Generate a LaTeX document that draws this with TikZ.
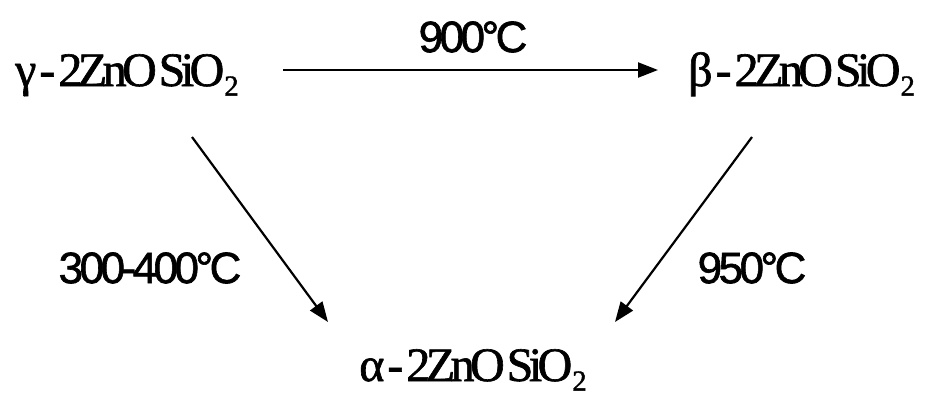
\documentclass[tikz,border=0pt]{standalone}
\usepackage{fontspec}
\usepackage{tikz}
\usetikzlibrary{arrows.meta,positioning}
\newfontfamily\formfont[LetterSpace=-9.5,FakeBold=1.3]{Liberation Serif}
\newfontfamily\tempfont[LetterSpace=-8,FakeBold=1.4]{Liberation Sans}
\newcommand{\sub}[1]{\raisebox{-0.2em}{\fontsize{29}{29}\selectfont #1}}
\tikzset{
  phase/.style={inner sep=0pt,font=\fontsize{48}{50}\selectfont\formfont},
  templbl/.style={inner sep=0pt,font=\fontsize{44}{46}\selectfont\tempfont},
  convarrow/.style={-{Triangle[length=20pt,width=15pt]},line width=2.2pt},
}
\begin{document}
\begin{tikzpicture}[x=1pt,y=-1pt]
  \useasboundingbox (0,0) rectangle (926,397);
  % the three polymorphs
  \node[phase,anchor=base west] (gam) at (15,86) {γ\kern3pt-\kern3pt2ZnO\kern2pt SiO\sub{2}};
  \node[phase,anchor=base west] (bet) at (688,86) {β\kern3pt-\kern3pt2ZnO\kern2pt SiO\sub{2}};
  \node[phase,anchor=base] (alp) at (473,381) {α\kern3pt-\kern3pt2ZnO\kern2pt SiO\sub{2}};
  % transitions
  \draw[convarrow] ([xshift=268pt,yshift=16pt]gam.base west) -- ([xshift=-30pt,yshift=16pt]bet.base west);
  \draw[convarrow] ([xshift=177pt,yshift=-51pt]gam.base west) -- ([xshift=-145pt,yshift=59pt]alp.base);
  \draw[convarrow] ([xshift=64pt,yshift=-51pt]bet.base west) -- ([xshift=142pt,yshift=59pt]alp.base);
  % temperatures
  \node[templbl] (t900) at (473,37) {900°C};
  \node[templbl] (t300) at (150,268) {300-400°C};
  \node[templbl] (t950) at (752,268) {950°C};
\end{tikzpicture}
\end{document}
